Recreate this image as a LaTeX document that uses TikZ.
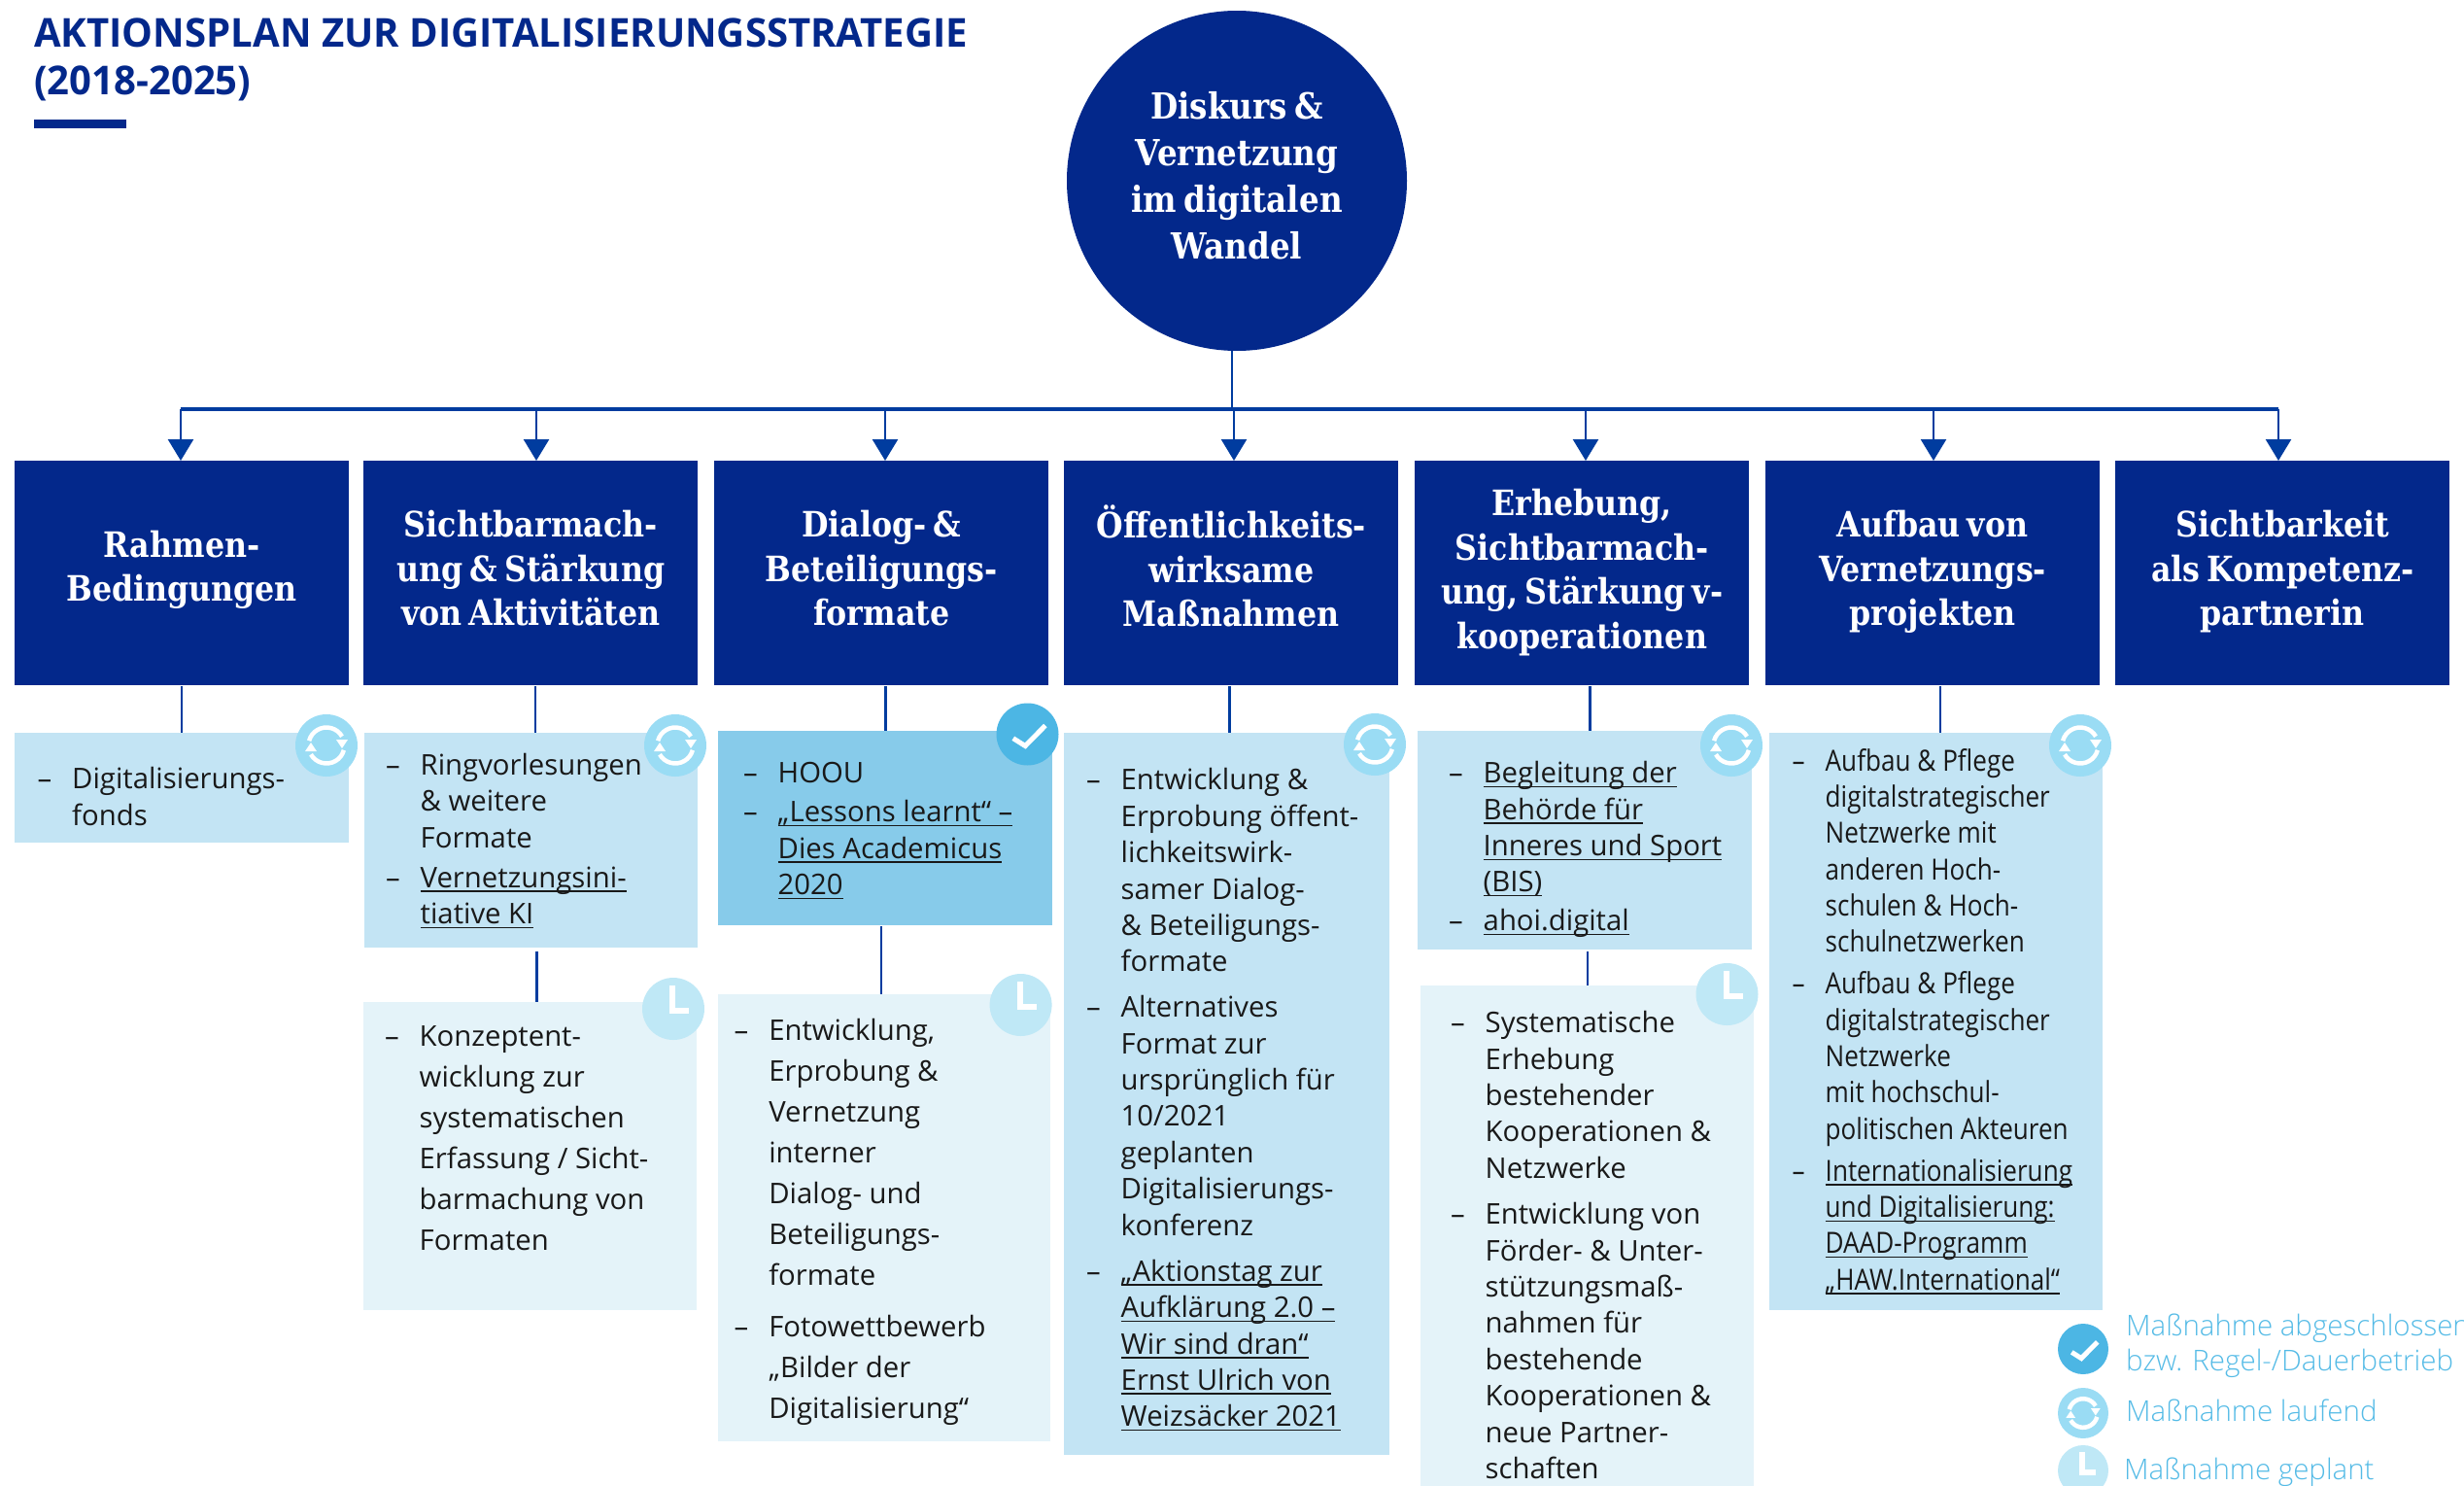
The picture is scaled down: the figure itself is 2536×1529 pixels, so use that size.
\documentclass[tikz,border=0pt]{standalone}
\usepackage{fontspec}
\usepackage{tikz}
\usetikzlibrary{arrows.meta,shapes.geometric}
\setmainfont{Open Sans}
\newfontfamily\headfont[FakeStretch=0.88,WordSpace=0.65]{DejaVu Serif}
\newfontfamily\narrowfont[FakeStretch=0.87]{Open Sans}
\newfontfamily\titlefont[FakeStretch=0.978]{Open Sans}
\newfontfamily\lightfont{Open Sans Light}
\definecolor{navy}{HTML}{03288B}
\definecolor{linkblue}{HTML}{003C9F}
\definecolor{boxrun}{HTML}{C3E4F4}
\definecolor{boxdone}{HTML}{87CBEA}
\definecolor{boxplan}{HTML}{E4F3F9}
\definecolor{icondone}{HTML}{4CB6E4}
\definecolor{iconrun}{HTML}{9ADCF4}
\definecolor{iconplan}{HTML}{BFE8F6}
\definecolor{legendtext}{HTML}{55BBE6}
\newcommand{\itm}{\leavevmode\llap{\textendash\hspace{21pt}}\rule{0pt}{26pt}}
\newsavebox{\ulbox}
\newcommand{\uline}[1]{\sbox{\ulbox}{#1}\rlap{\rule[-4.5pt]{\wd\ulbox}{1.5pt}}\usebox{\ulbox}}
\tikzset{
  pics/checkmark/.style={code={
    \draw[white,line width=5pt,y=1pt] (-14.7,-4.2) -- (-2.3,-12) -- (18.4,9);}},
  pics/loopmark/.style={code={
    \begin{scope}[y=1pt]
    \draw[white,line width=4.5pt] (165:18.5) arc[start angle=165,end angle=30,radius=18.5];
    \draw[white,line width=4.5pt] (-15:18.5) arc[start angle=-15,end angle=-150,radius=18.5];
    \fill[white] (10,6) -- (22,6) -- (16,-3) -- cycle;
    \fill[white] (-10,-6) -- (-22,-6) -- (-16,3) -- cycle;
    \end{scope}}},
  pics/clockmark/.style={code={
    \draw[white,line width=6pt,y=1pt] (-1,24) -- (-1,-2) -- (16,-2);}}
}
\begin{document}
\begin{tikzpicture}[x=1pt,y=-1pt,
    headbox/.style={fill=navy,text=white,anchor=north west,minimum width=344pt,minimum height=231pt,
      inner sep=0pt,align=center,font=\headfont\bfseries\fontsize{36}{45.5}\selectfont},
    runbox/.style={fill=boxrun,anchor=north west,inner sep=0pt},
    donebox/.style={fill=boxdone,anchor=north west,inner sep=0pt},
    planbox/.style={fill=boxplan,anchor=north west,inner sep=0pt},
    itemtext/.style={anchor=north west,inner sep=0pt,xshift=-0.5pt,yshift=27pt,align=left,text=black!90,
      font=\fontsize{29.3}{37.4}\selectfont},
    itemwide/.style={itemtext,font=\fontsize{29.3}{42}\selectfont},
    itemnarrow/.style={itemtext,font=\narrowfont\fontsize{30}{37.3}\selectfont},
    icon/.style={circle,inner sep=0pt,minimum size=64pt},
    link/.style={draw=linkblue,line width=2.5pt},
    legend/.style={anchor=base west,inner sep=0pt,xshift=-1pt,text=legendtext,font=\lightfont\fontsize{29.5}{36}\selectfont}]
  \useasboundingbox (0,0) rectangle (2536,1529);
  \clip (0,0) rectangle (2536,1529);

  % title
  \node[anchor=north west,inner sep=0pt,yshift=30pt,align=left,text=navy,
    font=\titlefont\bfseries\fontsize{41}{49}\selectfont] (title) at (35,48)
    {\rule{0pt}{30pt}AKTIONSPLAN ZUR DIGITALISIERUNGSSTRATEGIE\\(2018-2025)};
  \fill[navy] (35,123) rectangle (130,132);

  % centre and headers
  \node[circle,fill=navy,text=white,minimum size=350pt,inner sep=0pt,align=center,
    font=\headfont\bfseries\fontsize{37}{48}\selectfont] (centre) at (1273,186)
    {\strut Diskurs \&\\Vernetzung\\im digitalen\\Wandel\rule[-16pt]{0pt}{0pt}};
  \node[headbox] (head1) at (15,474) {\strut Rahmen-\\Bedingungen\rule[-19pt]{0pt}{0pt}};
  \node[headbox] (head2) at (374,474) {\strut Sichtbarmach-\\ung \& Stärkung\\von Aktivitäten\rule[-15pt]{0pt}{0pt}};
  \node[headbox] (head3) at (735,474) {\strut Dialog- \&\\Beteiligungs-\\formate\rule[-15pt]{0pt}{0pt}};
  \node[headbox] (head4) at (1095,474) {\strut Öffentlichkeits-\\wirksame\\Maßnahmen\rule[-15pt]{0pt}{0pt}};
  \node[headbox] (head5) at (1456,474) {\strut Erhebung,\\Sichtbarmach-\\ung, Stärkung v-\\kooperationen\strut};
  \node[headbox] (head6) at (1817,474) {\strut Aufbau von\\Vernetzungs-\\projekten\rule[-15pt]{0pt}{0pt}};
  \node[headbox] (head7) at (2177,474) {\strut Sichtbarkeit\\als Kompetenz-\\partnerin\rule[-15pt]{0pt}{0pt}};

  % bus with arrows
  \coordinate (busl) at (186,421);
  \coordinate (busr) at (2345,421);
  \coordinate (drop) at (1268,421);
  \draw[link,line width=3.5pt] (busl) -- (busr);
  \draw[link] (drop |- centre.south) -- (drop);
  \foreach \n/\x in {1/186,2/552,3/911,4/1270,5/1632,6/1990,7/2345}{
    \coordinate (bus\n) at (\x,421);
    \draw[link,-{Triangle[length=22pt,width=26pt,fill=linkblue]}] (bus\n) -- (bus\n |- head\n.north);
  }

  % boxes
  \node[runbox,minimum width=344pt,minimum height=113pt] (sub1) at (15,754) {};
  \node[runbox,minimum width=343pt,minimum height=221pt] (sub2) at (375,754) {};
  \node[planbox,minimum width=343pt,minimum height=317pt] (plan2) at (374,1031) {};
  \node[donebox,minimum width=344pt,minimum height=200pt] (sub3) at (739,752) {};
  \node[planbox,minimum width=342pt,minimum height=460pt] (plan3) at (739,1023) {};
  \node[runbox,minimum width=335pt,minimum height=743pt] (sub4) at (1095,754) {};
  \node[runbox,minimum width=344pt,minimum height=225pt] (sub5) at (1459,752) {};
  \node[planbox,minimum width=343pt,minimum height=515pt] (plan5) at (1462,1014) {};
  \node[runbox,minimum width=343pt,minimum height=594pt] (sub6) at (1821,754) {};

  % stubs
  \coordinate (stub1) at (187,706);
  \coordinate (stub2) at (551,706);
  \coordinate (stub2b) at (552.5,979);
  \coordinate (stub3) at (911.5,706);
  \coordinate (stub3b) at (907,953);
  \coordinate (stub4) at (1265.5,706);
  \coordinate (stub5) at (1636.5,706);
  \coordinate (stub5b) at (1634,979);
  \coordinate (stub6) at (1997,706);
  \draw[link] (stub1) -- (stub1 |- sub1.north);
  \draw[link] (stub2) -- (stub2 |- sub2.north);
  \draw[link] (stub2b) -- (stub2b |- plan2.north);
  \draw[link] (stub3) -- (stub3 |- sub3.north);
  \draw[link] (stub3b) -- (stub3b |- plan3.north);
  \draw[link] (stub4) -- (stub4 |- sub4.north);
  \draw[link] (stub5) -- (stub5 |- sub5.north);
  \draw[link] (stub5b) -- (stub5b |- plan5.north);
  \draw[link] (stub6) -- (stub6 |- sub6.north);

  % status icons
  \foreach \n/\x/\y in {a/336/767,b/695/767,c/1415/766,d/1782/767,e/2141/767}{
    \node[icon,fill=iconrun] (run\n) at (\x,\y) {};
    \pic at (run\n) {loopmark};
  }
  \node[icon,fill=icondone] (done) at (1057.5,755.5) {};
  \pic at (done) {checkmark};
  \foreach \n/\x/\y in {a/693/1038,b/1050.6/1034,c/1777.5/1023}{
    \node[icon,fill=iconplan] (plan\n) at (\x,\y) {};
    \pic at (plan\n) {clockmark};
  }

  % column texts
  \node[itemtext] (t1a) at (74.5,812.6) {\itm Digitalisierungs-\\fonds};

  \node[itemtext] (t2a) at (433,798) {\itm Ringvorlesungen\\\& weitere\\Formate};
  \node[itemtext] (t2b) at (433,914) {\itm\uline{Vernetzungsini-}\\\uline{tiative KI}};
  \node[itemwide] (t2c) at (432,1077) {\itm Konzeptent-\\wicklung zur\\systematischen\\Erfassung / Sicht-\\barmachung von\\Formaten};

  \node[itemtext] (t3a) at (801,806) {\itm HOOU};
  \node[itemtext] (t3b) at (801,846.5) {\itm\uline{„Lessons learnt“ –}\\\uline{Dies Academicus}\\\uline{2020}};
  \node[itemwide] (t3c) at (791.6,1071) {\itm Entwicklung,\\Erprobung \&\\Vernetzung\\interner\\Dialog- und\\Beteiligungs-\\formate};
  \node[itemwide] (t3d) at (791.6,1376) {\itm Fotowettbewerb\\„Bilder der\\Digitalisierung“};

  \node[itemtext] (t4a) at (1154,813.7) {\itm Entwicklung \&\\Erprobung öffent-\\lichkeitswirk-\\samer Dialog-\\\& Beteiligungs-\\formate};
  \node[itemtext] (t4b) at (1154,1047.5) {\itm Alternatives\\Format zur\\ursprünglich für\\10/2021\\geplanten\\Digitalisierungs-\\konferenz};
  \node[itemtext] (t4c) at (1154,1319) {\itm\uline{„Aktionstag zur}\\\uline{Aufklärung 2.0 –}\\\uline{Wir sind dran“}\\\uline{Ernst Ulrich von}\\\uline{Weizsäcker 2021}};

  \node[itemtext] (t5a) at (1527,806.5) {\itm\uline{Begleitung der}\\\uline{Behörde für}\\\uline{Inneres und Sport}\\\uline{(BIS)}};
  \node[itemtext] (t5b) at (1527,958.5) {\itm\uline{ahoi.digital}};
  \node[itemtext] (t5c) at (1529,1063.5) {\itm Systematische\\Erhebung\\bestehender\\Kooperationen \&\\Netzwerke};
  \node[itemtext] (t5d) at (1529,1260.5) {\itm Entwicklung von\\Förder- \& Unter-\\stützungsmaß-\\nahmen für\\bestehende\\Kooperationen \&\\neue Partner-\\schaften};

  \node[itemnarrow] (t6a) at (1879,794) {\itm Aufbau \& Pflege\\digitalstrategischer\\Netzwerke mit\\anderen Hoch-\\schulen \& Hoch-\\schulnetzwerken};
  \node[itemnarrow] (t6b) at (1879,1023.6) {\itm Aufbau \& Pflege\\digitalstrategischer\\Netzwerke\\mit hochschul-\\politischen Akteuren};
  \node[itemnarrow] (t6c) at (1879,1216) {\itm\uline{Internationalisierung}\\\uline{und Digitalisierung:}\\\uline{DAAD-Programm}\\\uline{„HAW.International“}};

  % legend
  \node[icon,fill=icondone,minimum size=52pt] (keydone) at (2144,1388) {};
  \pic[scale=0.8] at (keydone) {checkmark};
  \node[icon,fill=iconrun,minimum size=52pt] (keyrun) at (2144,1454) {};
  \pic[scale=0.8] at (keyrun) {loopmark};
  \node[icon,fill=iconplan,minimum size=52pt] (keyplan) at (2144,1513) {};
  \pic[scale=0.8] at (keyplan) {clockmark};
  \node[legend] (lab1) at (2189,1374) {Maßnahme abgeschlossen};
  \node[legend] (lab2) at (2189,1410.7) {bzw. Regel-/Dauerbetrieb};
  \node[legend] (lab3) at (2189,1462.7) {Maßnahme laufend};
  \node[legend] (lab4) at (2187,1522.7) {Maßnahme geplant};
\end{tikzpicture}
\end{document}
